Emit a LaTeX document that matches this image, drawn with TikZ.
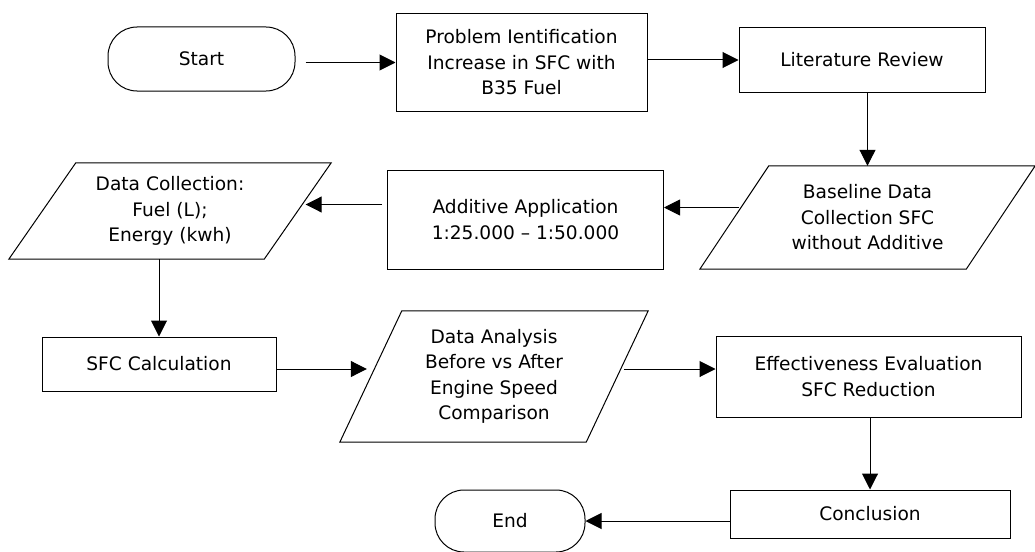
\documentclass[tikz,border=0pt]{standalone}
\usepackage{fontspec}
\setmainfont{DejaVu Sans}
\usetikzlibrary{arrows.meta}

\tikzset{
  proc/.style={draw, rectangle, line width=1pt, align=center, inner sep=2pt},
  term/.style={draw, rectangle, rounded corners=29pt, line width=1pt, align=center},
  io/.style={rectangle, align=center, inner sep=0pt},
  arr/.style={-{Triangle[length=16pt,width=16pt]}, line width=1pt}
}

% parallelogram drawn round a named io node: #1 node, #2 half of the slant
\newcommand{\iobox}[2]{%
  \draw[line width=1pt] ([xshift=#2]#1.north west) -- ([xshift=#2]#1.north east)
    -- ([xshift=-#2]#1.south east) -- ([xshift=-#2]#1.south west) -- cycle;}

\begin{document}
\begin{tikzpicture}[x=1pt, y=-1pt, font=\fontsize{18.6}{25.5}\selectfont]

  \useasboundingbox (0,0) rectangle (1035,551);

  \node[term, minimum width=187pt, minimum height=64pt] (start) at (201.5,59) {Start};
  \node[proc, minimum width=251pt, minimum height=97pt] (prob) at (521.5,62.5) {Problem Ientification\\Increase in SFC with\\B35 Fuel};
  \node[proc, minimum width=246pt, minimum height=64pt] (lit) at (862,60) {Literature Review};
  \node[io, minimum width=266pt, minimum height=103pt] (base) at (867.5,217.5) {Baseline Data\\Collection SFC\\without Additive};
  \node[proc, minimum width=276pt, minimum height=99pt] (add) at (525.5,219.5) {Additive Application\\1:25.000 -- 1:50.000};
  \node[io, minimum width=255pt, minimum height=96pt] (coll) at (170,211) {Data Collection:\\Fuel (L);\\Energy (kwh)};
  \node[proc, minimum width=234pt, minimum height=54pt] (sfc) at (159,364) {SFC Calculation};
  \node[io, minimum width=246pt, minimum height=131pt] (ana) at (494,376.5) {Data Analysis\\Before vs After\\Engine Speed\\Comparison};
  \node[proc, minimum width=305pt, minimum height=81pt] (eff) at (868.5,376.5) {Effectiveness Evaluation\\SFC Reduction};
  \node[proc, minimum width=280pt, minimum height=48pt] (conc) at (870,514) {Conclusion};
  \node[term, minimum width=150pt, minimum height=62pt] (endn) at (510,521) {End};

  \iobox{base}{34.5pt}
  \iobox{coll}{33.5pt}
  \iobox{ana}{31pt}

  \coordinate (s1) at ([xshift=10pt]start.east);
  \coordinate (a1) at ([yshift=12pt]add.east);
  \coordinate (b1) at ([xshift=5pt]base.west);
  \coordinate (a2) at ([yshift=15pt,xshift=-5pt]add.west);
  \coordinate (c1) at ([xshift=8pt]coll.east);
  \coordinate (a3) at ([yshift=-5pt]sfc.east);
  \coordinate (w1) at ([xshift=-4pt]ana.west);
  \coordinate (n1) at ([xshift=7pt]ana.east);

  \draw[arr] (s1 |- prob.west) -- (prob.west);
  \draw[arr] (prob.east |- lit.west) -- (lit.west);
  \draw[arr] (base.north |- lit.south) -- (base.north);
  \draw[arr] (b1 |- a1) -- (a1);
  \draw[arr] (a2) -- (c1 |- a2);
  \draw[arr] (sfc.north |- coll.south) -- (sfc.north);
  \draw[arr] (a3) -- (w1 |- a3);
  \draw[arr] (n1 |- a3) -- (eff.west |- a3);
  \draw[arr] (conc.north |- eff.south) -- (conc.north);
  \draw[arr] (conc.west |- endn.east) -- (endn.east);

\end{tikzpicture}
\end{document}
